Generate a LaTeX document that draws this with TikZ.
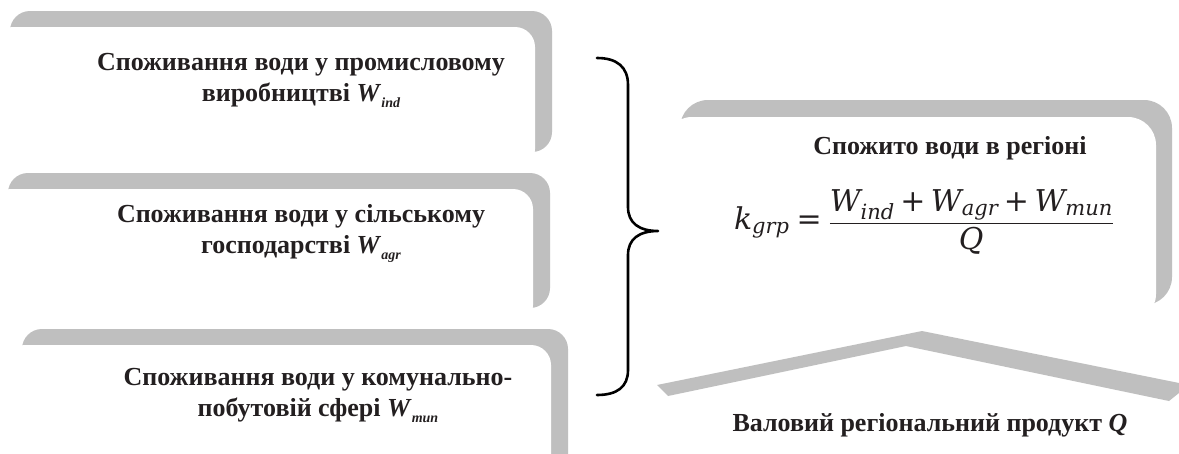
\documentclass[tikz,border=0pt]{standalone}
\usepackage{amsmath}
\usepackage{fontspec}
\setmainfont{Liberation Serif}
\newfontfamily\mf{DejaVu Serif}
\definecolor{band}{RGB}{191,191,191}
\definecolor{ink}{RGB}{35,31,32}
\newcommand{\Wsub}[1]{\textit{W}\raisebox{-0.5ex}{\fontsize{14}{14}\selectfont\textit{#1}}}
\newcommand{\mi}[1]{\text{\mf\itshape #1}}
\newcommand{\mo}[1]{\mathbin{\text{\mf #1}}}
\tikzset{
  txt/.style={align=center, text=ink, font=\fontsize{26}{31}\selectfont\bfseries, inner sep=0pt},
  brace/.style={line width=2.6pt, line cap=round, line join=round}
}
\begin{document}
\begin{tikzpicture}[x=1pt, y=-1pt]
\clip (0,0) rectangle (1179,453);
\fill[white] (0,0) rectangle (1179,453);
% box 1
\fill[band, rounded corners=20pt] (10,11) rectangle (552,152);
\fill[white, rounded corners=20pt] (-7,27) rectangle (535,169);
% box 2
\fill[band, rounded corners=20pt] (8,173) rectangle (550,308);
\fill[white, rounded corners=20pt] (-9,189) rectangle (533,325);
% box 3
\fill[band, rounded corners=20pt] (22,329) rectangle (568,480);
\fill[white, rounded corners=20pt] (5,345) rectangle (551,500);
% right box
\fill[band, rounded corners=28pt] (680,100) rectangle (1172,305);
\fill[white, rounded corners=28pt] (664,117) rectangle (1156,322);
% chevron
\fill[band] (657,385) -- (922,331) -- (1179,383) -- (1179,393) -- (1169,401) -- (906,346) -- (668,396) -- cycle;
% texts
\node[txt] (ind) at (301,80) {Споживання води у промисловому\\виробництві \Wsub{ind}};
\node[txt] (agr) at (301,233) {Споживання води у сільському\\господарстві \Wsub{agr}};
\node[txt] (mun) at (318,395) {Споживання води у комунально-\\побутовій сфері \Wsub{mun}};
\node[txt] (tot) at (950,148) {Спожито води в регіоні};
\node[text=ink, inner sep=0pt, font=\fontsize{30}{36}\selectfont] (frm) at (924,222)
  {$\displaystyle \mi{k}_{\mi{grp}}\mathrel{\text{\mf =}}\frac{\mi{W}_{\mi{ind}}\mo{+}\mi{W}_{\mi{agr}}\mo{+}\mi{W}_{\mi{mun}}}{\mi{Q}}$};
\node[txt] (gdp) at (930,425) {Валовий регіональний продукт \textit{Q}};
% brace
\coordinate (bt) at (597,58);
\coordinate (tip) at (658,231);
\coordinate (bb) at (597,395);
\draw[brace] (bt) .. controls (617,58) and (628,67) .. (628,85) -- (628,207)
  .. controls (628,223) and (639,231) .. (tip)
  .. controls (639,231) and (628,239) .. (628,255) -- (628,370)
  .. controls (628,387) and (617,395) .. (bb);
\end{tikzpicture}
\end{document}
